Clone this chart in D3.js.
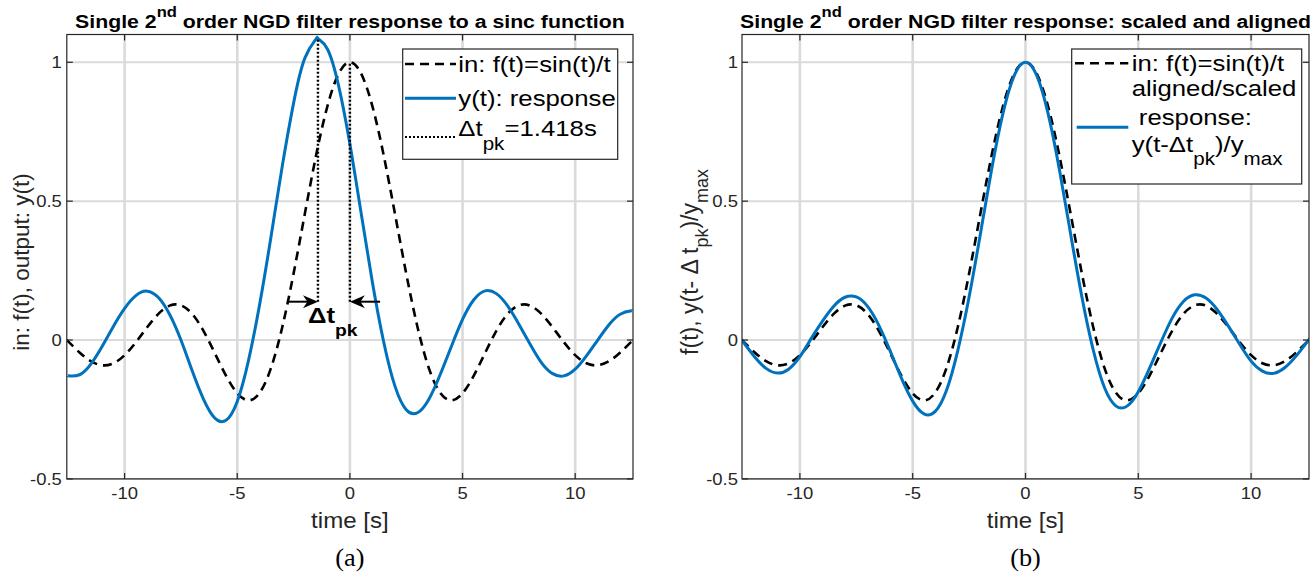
<!DOCTYPE html>
<html><head><meta charset="utf-8">
<script src="https://cdn.jsdelivr.net/npm/d3@7"></script>
<style>
body{margin:0;background:#fff;}
svg{display:block;}
text{white-space:pre;}
</style></head><body>
<svg id="chart" width="1313" height="577"></svg>
<script>
// ---------------- data ----------------
const timeDomain = [-12.566, 12.566];
const valueDomain = [-0.5, 1.1];
const timeTicks = [-10, -5, 0, 5, 10];
const timeTickLabels = ["-10", "-5", "0", "5", "10"];
const valueTicks = [-0.5, 0, 0.5, 1];
const valueTickLabels = ["-0.5", "0", "0.5", "1"];

// input f(t) = sin(t)/t
const inputT = [-12.566,-12,-11.5,-11,-10.5,-10,-9.5,-9,-8.5,-8,-7.5,-7,-6.5,-6,-5.5,-5,-4.5,-4,-3.5,-3,-2.5,-2,-1.5,-1,-0.5,0,
  0.5,1,1.5,2,2.5,3,3.5,4,4.5,5,5.5,6,6.5,7,7.5,8,8.5,9,9.5,10,10.5,11,11.5,12,12.566];
const inputF = [0,-0.0447,-0.0761,-0.0909,-0.0838,-0.0544,-0.0079,0.0458,0.0939,0.1237,0.1250,0.0939,0.0331,-0.0466,-0.1283,-0.1918,-0.2172,-0.1892,-0.1002,0.0470,0.2394,0.4546,0.6650,0.8415,0.9589,1,
  0.9589,0.8415,0.6650,0.4546,0.2394,0.0470,-0.1002,-0.1892,-0.2172,-0.1918,-0.1283,-0.0466,0.0331,0.0939,0.1250,0.1237,0.0939,0.0458,-0.0079,-0.0544,-0.0838,-0.0909,-0.0761,-0.0447,0];

// response y(t) of panel (a)
const responseT = [-12.566,-12.5,-12,-11.5,-11,-10.5,-10,-9.5,-9,-8.5,-8,-7.5,-7,-6.5,-6,-5.5,-5,-4.5,-4,-3.5,-3,-2.5,-2,-1.5,-1.418,
  -1,-0.5,0,0.5,1,1.5,2,2.5,3,3.5,4,4.5,5,5.5,6,6.5,7,7.5,8,8.5,9,9.5,10,10.5,11,11.5,12,12.5,12.566];
const responseY = [-0.127,-0.129,-0.125,-0.087,-0.023,0.049,0.114,0.160,0.176,0.153,0.092,0,-0.111,-0.213,-0.281,-0.289,-0.221,-0.073,0.131,0.373,0.627,0.853,1.015,1.084,1.085,
  1.048,0.915,0.706,0.456,0.207,-0.007,-0.166,-0.251,-0.262,-0.214,-0.126,-0.024,0.074,0.145,0.177,0.167,0.123,0.057,-0.015,-0.081,-0.121,-0.129,-0.105,-0.057,0,0.055,0.093,0.105,0.105];

// aligned / scaled response of panel (b)
const alignedT = [-12.566,-12.5,-12,-11.5,-11,-10.5,-10,-9.5,-9,-8.5,-8,-7.5,-7,-6.5,-6,-5.5,-5,-4.5,-4,-3.5,-3,-2.5,-2,-1.5,-1,-0.5,0,
  0.5,1,1.5,2,2.5,3,3.5,4,4.5,5,5.5,6,6.5,7,7.5,8,8.5,9,9.5,10,10.5,11,11.5,12,12.5,12.566];
const alignedY = [0,-0.008,-0.061,-0.102,-0.119,-0.105,-0.060,0.005,0.068,0.122,0.154,0.155,0.121,0.053,-0.039,-0.137,-0.220,-0.266,-0.257,-0.181,-0.037,0.155,0.382,0.615,0.816,0.952,1,
  0.952,0.816,0.615,0.382,0.155,-0.035,-0.171,-0.237,-0.238,-0.186,-0.101,-0.008,0.079,0.139,0.163,0.151,0.109,0.049,-0.016,-0.076,-0.112,-0.120,-0.099,-0.057,-0.005,0.002];

const deltaTpk = 1.418;      // peak time shift
const peakResponse = 1.085;  // y_max
const markerLevel = 0.138;   // height of the arrows
const arrowTails = [-2.8, 1.34];

// ---------------- layout ----------------
const SANS = "'Liberation Sans', Arial, Helvetica, sans-serif";
const SERIF = "'Liberation Serif', 'Times New Roman', serif";
const SX = 1.12;  // horizontal text stretch of the reference
const TOP = 34.5, BOTTOM = 478.9;
const BLUE = "#0072BD", AX = "#262626";
const svg = d3.select("#chart");

function rich(parent, parts, size, opts = {}) {
  const t = parent.append("text").style("font-size", size + "px")
    .style("font-family", opts.family || SANS)
    .attr("text-anchor", opts.anchor || "start")
    .style("font-weight", opts.weight || "normal")
    .attr("fill", opts.fill || "#000");
  let shift = 0;
  parts.forEach(p => {
    const part = typeof p === "string" ? {t: p} : p;
    const target = part.sub ? size * (opts.subShift || 0.5) : part.sup ? -size * 0.6 : 0;
    const ts = t.append("tspan").text(part.t).attr("dy", target - shift);
    if (part.sub || part.sup) ts.style("font-size", (size * (opts.subSize || 0.78)) + "px");
    shift = target;
  });
  return t;
}
function textAt(x, y, parts, size, opts = {}) {
  const g = svg.append("g").attr("transform", opts.rotate
    ? `translate(${x},${y}) rotate(-90)`
    : `translate(${x},${y}) scale(${opts.sx || SX},1)`);
  return rich(g, parts, size, opts);
}

const panels = [
  {x0: 66.8, x1: 633, labelGap: 5,
   title: ["Single 2", {t: "nd", sup: true}, " order NGD filter response to a sinc function"],
   ylabel: ["in: f(t), output: y(t)"], ylabelX: 29, ylabelSize: 22.5,
   caption: "(a)", respT: responseT, respY: responseY},
  {x0: 742, x1: 1309, labelGap: 4,
   title: ["Single 2", {t: "nd", sup: true}, " order NGD filter response: scaled and aligned"],
   ylabel: ["f(t), y(t- \u0394 t", {t: "pk", sub: true}, ")/y", {t: "max", sub: true}], ylabelX: 698, ylabelSize: 23,
   caption: "(b)", respT: alignedT, respY: alignedY}
];

panels.forEach((P, i) => {
  const x = d3.scaleLinear().domain(timeDomain).range([P.x0, P.x1]);
  const y = d3.scaleLinear().domain(valueDomain).range([BOTTOM, TOP]);
  const cx = (P.x0 + P.x1) / 2;
  const g = svg.append("g");

  // grid
  g.selectAll(".vg").data(timeTicks).join("line")
    .attr("x1", d => x(d)).attr("x2", d => x(d)).attr("y1", TOP).attr("y2", BOTTOM)
    .attr("stroke", "#dadada").attr("stroke-width", 2.6);
  g.selectAll(".hg").data(valueTicks).join("line")
    .attr("x1", P.x0).attr("x2", P.x1).attr("y1", d => y(d)).attr("y2", d => y(d))
    .attr("stroke", "#dadada").attr("stroke-width", 2);

  // clip
  const clipId = "clip" + i;
  svg.append("clipPath").attr("id", clipId).append("rect")
    .attr("x", P.x0).attr("y", TOP).attr("width", P.x1 - P.x0).attr("height", BOTTOM - TOP);
  const plot = g.append("g").attr("clip-path", `url(#${clipId})`);
  const line = d3.line().x(d => x(d[0])).y(d => y(d[1])).curve(d3.curveNatural);

  plot.append("path").datum(d3.zip(inputT, inputF)).attr("d", line)
    .attr("fill", "none").attr("stroke", "#000").attr("stroke-width", 2.6).attr("stroke-dasharray", "9,6");
  plot.append("path").datum(d3.zip(P.respT, P.respY)).attr("d", line)
    .attr("fill", "none").attr("stroke", BLUE).attr("stroke-width", 3);

  // box
  g.append("rect").attr("x", P.x0).attr("y", TOP).attr("width", P.x1 - P.x0).attr("height", BOTTOM - TOP)
    .attr("fill", "none").attr("stroke", AX).attr("stroke-width", 1.2);
  // ticks (inward)
  timeTicks.forEach(t => {
    g.append("line").attr("x1", x(t)).attr("x2", x(t)).attr("y1", BOTTOM).attr("y2", BOTTOM - 6).attr("stroke", AX).attr("stroke-width", 1.2);
    g.append("line").attr("x1", x(t)).attr("x2", x(t)).attr("y1", TOP).attr("y2", TOP + 6).attr("stroke", AX).attr("stroke-width", 1.2);
  });
  valueTicks.forEach(v => {
    g.append("line").attr("x1", P.x0).attr("x2", P.x0 + 6).attr("y1", y(v)).attr("y2", y(v)).attr("stroke", AX).attr("stroke-width", 1.2);
    g.append("line").attr("x1", P.x1).attr("x2", P.x1 - 6).attr("y1", y(v)).attr("y2", y(v)).attr("stroke", AX).attr("stroke-width", 1.2);
  });
  // tick labels
  timeTicks.forEach((t, k) => textAt(x(t), 499, [timeTickLabels[k]], 16.5, {anchor: "middle", fill: AX}));
  valueTicks.forEach((v, k) => textAt(P.x0 - P.labelGap, y(v) + 6, [valueTickLabels[k]], 16.5, {anchor: "end", fill: AX}));

  // labels
  textAt(cx, 528, ["time [s]"], 21.5, {anchor: "middle", fill: AX});
  textAt(P.ylabelX, 262, P.ylabel, P.ylabelSize, {anchor: "middle", fill: AX, rotate: true, subShift: 0.45, subSize: 0.78});
  textAt(cx, 28, P.title, 19, {anchor: "middle", weight: "bold"});
  textAt(cx, 566, [P.caption], 25, {anchor: "middle", family: SERIF, sx: 1.05});

  P.x = x; P.y = y;
});

// ---------- annotation panel (a) ----------
{
  const {x, y} = panels[0];
  const ann = svg.append("g");
  const peaks = [[-deltaTpk, peakResponse], [0, 1]];
  peaks.forEach(p => {
    ann.append("line").attr("x1", x(p[0])).attr("x2", x(p[0])).attr("y1", y(markerLevel)).attr("y2", y(p[1]))
      .attr("stroke", "#000").attr("stroke-width", 2.4).attr("stroke-dasharray", "2,2");
  });
  const ay = y(markerLevel);
  const heads = [[arrowTails[0], -deltaTpk], [arrowTails[1], 0]];
  heads.forEach(([from, to]) => {
    const xs = x(from), xe = x(to), dir = Math.sign(xe - xs), L = 15, W = 6.5;
    ann.append("line").attr("x1", xs).attr("x2", xe - dir * L * 0.6).attr("y1", ay).attr("y2", ay)
      .attr("stroke", "#000").attr("stroke-width", 2);
    ann.append("path")
      .attr("d", `M${xe},${ay} L${xe - dir * L},${ay - W} L${xe - dir * L * 0.7},${ay} L${xe - dir * L},${ay + W} Z`)
      .attr("fill", "#000");
  });
  textAt(308, 323, ["\u0394t", {t: "pk", sub: true}], 23, {weight: "bold", subShift: 0.58, subSize: 0.75});
}

// ---------- legends ----------
function legendLine(x1, x2, yy, kind) {
  const l = svg.append("line").attr("x1", x1).attr("x2", x2).attr("y1", yy).attr("y2", yy);
  if (kind === "dash") l.attr("stroke", "#000").attr("stroke-width", 2.6).attr("stroke-dasharray", "9,6");
  if (kind === "solid") l.attr("stroke", BLUE).attr("stroke-width", 3);
  if (kind === "dot") l.attr("stroke", "#000").attr("stroke-width", 2.2).attr("stroke-dasharray", "2,2");
}
// panel (a)
svg.append("rect").attr("x", 402.7).attr("y", 49).attr("width", 215).attr("height", 110.3)
  .attr("fill", "#fff").attr("stroke", AX).attr("stroke-width", 1.2);
legendLine(405, 456, 64, "dash");
legendLine(405, 456, 98.3, "solid");
legendLine(405, 456, 137, "dot");
textAt(458.3, 71.7, ["in: f(t)=sin(t)/t"], 23);
textAt(458.3, 106, ["y(t): response"], 23);
textAt(458.3, 136, ["\u0394t", {t: "pk", sub: true}, "=1.418s"], 23, {subShift: 0.6, subSize: 0.8});

// panel (b)
svg.append("rect").attr("x", 1071.7).attr("y", 49).attr("width", 230).attr("height", 135)
  .attr("fill", "#fff").attr("stroke", AX).attr("stroke-width", 1.2);
legendLine(1075, 1128.3, 63.3, "dash");
legendLine(1076.7, 1128.3, 127.3, "solid");
textAt(1131.7, 71, ["in: f(t)=sin(t)/t"], 23);
textAt(1131.7, 95.5, ["aligned/scaled"], 23);
textAt(1131.7, 125, [" response:"], 23);
textAt(1131.7, 152, ["y(t-\u0394t", {t: "pk", sub: true}, ")/y", {t: "max", sub: true}], 23, {subShift: 0.55, subSize: 0.8});
</script>
</body></html>
